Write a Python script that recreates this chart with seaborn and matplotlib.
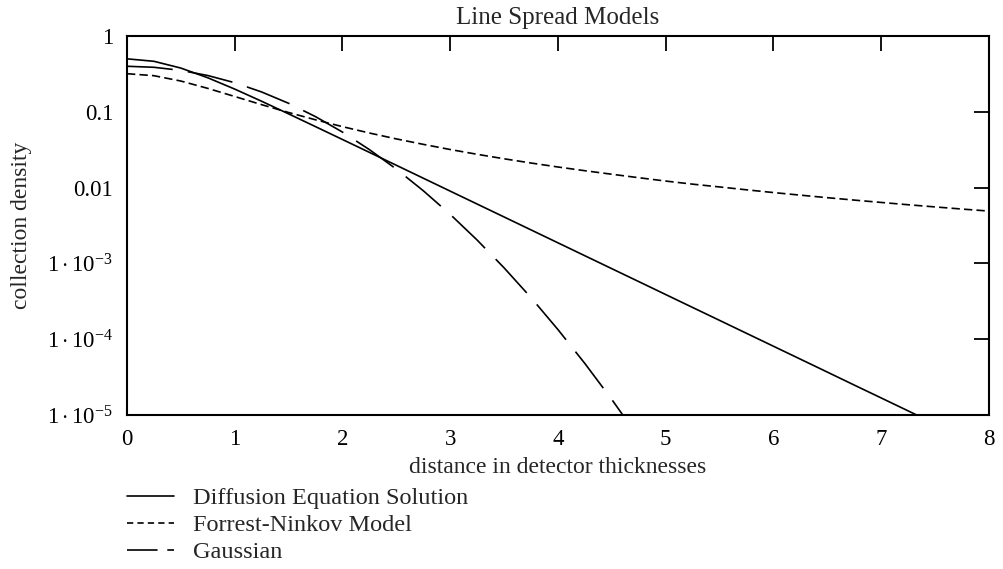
import matplotlib
matplotlib.use("Agg")
import matplotlib.pyplot as plt
from matplotlib.lines import Line2D
import numpy as np
import pandas as pd
import seaborn as sns

# distance in detector thicknesses
distance = [0, 0.25, 0.5, 0.75, 1, 1.25, 1.5, 1.75, 2, 2.25, 2.5, 2.75, 3,
            3.25, 3.5, 3.75, 4, 4.25, 4.5, 4.75, 5, 5.25, 5.5, 5.75, 6,
            6.25, 6.5, 6.75, 7, 7.25, 7.5, 7.75, 8]

# collection density
diffusion = [0.5, 0.4638, 0.3775, 0.2812, 0.1993, 0.1377, 0.0939, 0.0637,
             0.0431, 0.02915, 0.0197, 0.0133, 0.00898, 0.006065, 0.004096,
             0.002766, 0.001867, 0.001261, 0.000851, 0.000575, 0.000388,
             0.000262, 0.000177, 0.0001195, 8.07e-5, 5.45e-5, 3.68e-5,
             2.48e-5, 1.677e-5, 1.132e-5, 7.65e-6, 5.16e-6, 3.49e-6]
forrest_ninkov = [0.3183, 0.2996, 0.2546, 0.2037, 0.1592, 0.1242, 0.0979,
                  0.0784, 0.0637, 0.0525, 0.0439, 0.0372, 0.0318, 0.0275,
                  0.0240, 0.0211, 0.0187, 0.0167, 0.0150, 0.0135, 0.0122,
                  0.0111, 0.0102, 0.00935, 0.0086, 0.00795, 0.00736, 0.00684,
                  0.00637, 0.00594, 0.00556, 0.00521, 0.0049]
gauss_distance = distance[:21]
gaussian = [0.3989, 0.3867, 0.3521, 0.3011, 0.2420, 0.1826, 0.1295, 0.0863,
            0.0540, 0.0317, 0.01753, 0.00909, 0.00443, 0.00203, 0.000873,
            0.000353, 0.0001338, 4.77e-5, 1.598e-5, 5.03e-6, 1.49e-6]

model_names = ["Diffusion Equation Solution", "Forrest-Ninkov Model", "Gaussian"]

ytick_vals = [1, 0.1, 0.01, 1e-3, 1e-4, 1e-5]
ytick_labels = ["1", "0.1", "0.01", r"$1\cdot10^{-3}$", r"$1\cdot10^{-4}$",
                r"$1\cdot10^{-5}$"]

sns.set_style("white")
plt.rcParams["font.family"] = ["Liberation Serif", "DejaVu Serif"]
plt.rcParams["mathtext.fontset"] = "custom"
plt.rcParams["mathtext.rm"] = "Liberation Serif"
plt.rcParams["mathtext.it"] = "Liberation Serif:italic"
plt.rcParams["lines.scale_dashes"] = False

fig = plt.figure(figsize=(10.04, 5.69), dpi=100)
ax = fig.add_axes([0.1265, 0.2707, 0.8585, 0.666])

plot_dashes = ["-", (0, (6, 3)), (0, (33, 11))]
sns.lineplot(x=distance, y=diffusion, ax=ax, color="black", lw=1.2,
             linestyle=plot_dashes[0], estimator=None)
sns.lineplot(x=distance, y=forrest_ninkov, ax=ax, color="black", lw=1.2,
             linestyle=plot_dashes[1], estimator=None)
sns.lineplot(x=gauss_distance, y=gaussian, ax=ax, color="black", lw=1.2,
             linestyle=plot_dashes[2], estimator=None)

ax.set_yscale("log")
ax.set_xlim(0, 8)
ax.set_ylim(1e-5, 1)
ax.set_xticks(range(0, 9))
ax.set_yticks(ytick_vals)
ax.set_yticklabels(ytick_labels)
ax.minorticks_off()
ax.tick_params(direction="in", top=True, right=True, length=11, width=1.3,
               labelsize=16.5, color="black", labelcolor="black")
ax.tick_params(axis="x", pad=10)
ax.tick_params(axis="y", pad=10)
for sp in ax.spines.values():
    sp.set_linewidth(1.5)
    sp.set_color("black")

ax.set_title("Line Spread Models", fontsize=18, pad=9)
ax.set_xlabel("distance in detector thicknesses", fontsize=17, labelpad=5)
ax.set_ylabel("collection density", fontsize=17)
ax.yaxis.set_label_coords(-0.11, 0.5)

legend_dashes = ["-", (0, (4.5, 3)), (0, (22, 7))]
handles = [Line2D([], [], color="black", lw=1.2, linestyle=d) for d in legend_dashes]
fig.legend(handles, model_names, loc="upper left",
           bbox_to_anchor=(127 / 1004, 1 - 487 / 569), frameon=False,
           fontsize=17.5, handlelength=1.95, handletextpad=0.75,
           borderpad=0, borderaxespad=0, labelspacing=0.21)

fig.savefig("out.png", dpi=100)
